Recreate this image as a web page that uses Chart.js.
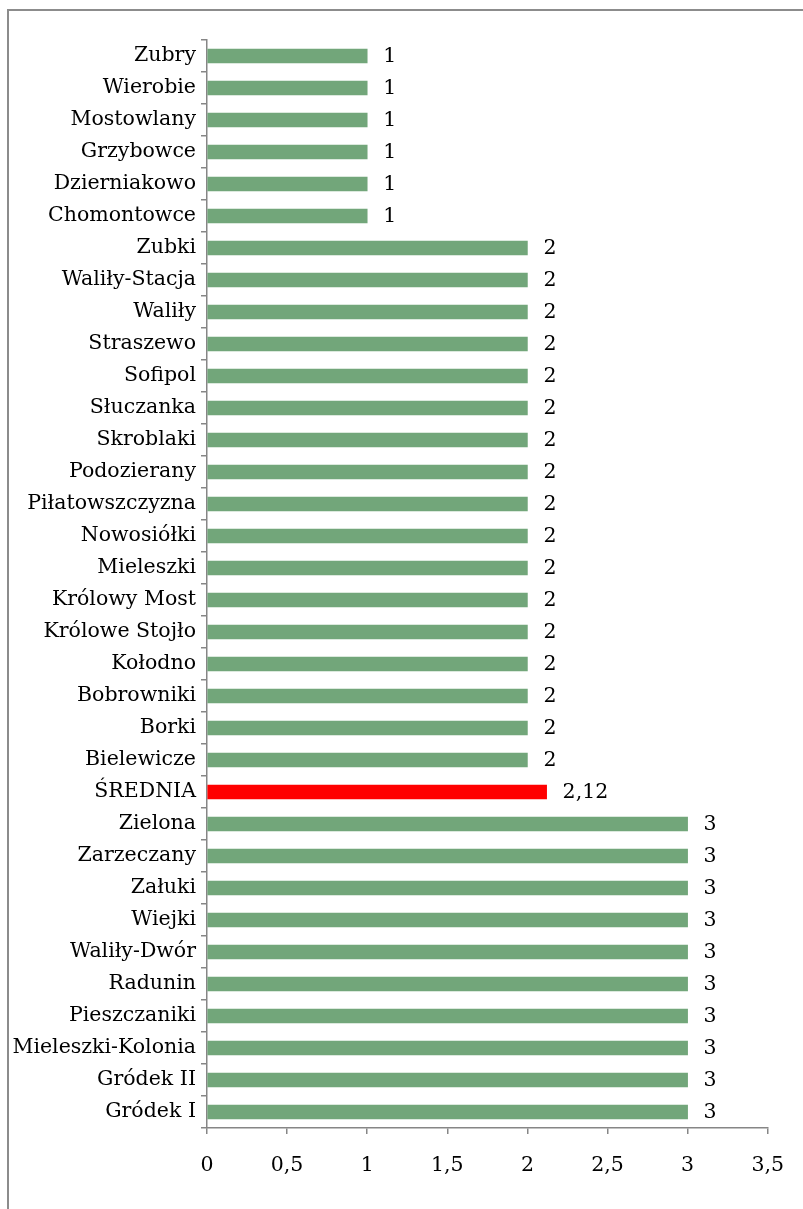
<!DOCTYPE html>
<html>
<head>
<meta charset="utf-8">
<script src="https://cdn.jsdelivr.net/npm/chart.js@4/dist/chart.umd.min.js"></script>
<style>
    html, body { margin: 0; padding: 0; background: #fff; }
    #wrap { position: relative; width: 803px; height: 1209px; overflow: hidden; }
    #frame {
        position: absolute; left: 7px; top: 9px; width: 900px; height: 1300px;
        border: 2px solid #8c8c8c; box-sizing: border-box;
    }
    #chart { position: absolute; left: 0; top: 0; }
</style>
</head>
<body>
<div id="wrap">
    <div id="frame"></div>
    <canvas id="chart" width="803" height="1209"></canvas>
</div>
<script>
// Categories, top to bottom
const categories = [
    'Zubry', 'Wierobie', 'Mostowlany', 'Grzybowce', 'Dzierniakowo', 'Chomontowce',
    'Zubki', 'Waliły-Stacja', 'Waliły', 'Straszewo', 'Sofipol', 'Słuczanka', 'Skroblaki',
    'Podozierany', 'Piłatowszczyzna', 'Nowosiółki', 'Mieleszki', 'Królowy Most',
    'Królowe Stojło', 'Kołodno', 'Bobrowniki', 'Borki', 'Bielewicze',
    'ŚREDNIA',
    'Zielona', 'Zarzeczany', 'Załuki', 'Wiejki', 'Waliły-Dwór', 'Radunin',
    'Pieszczaniki', 'Mieleszki-Kolonia', 'Gródek II', 'Gródek I'
];
const values = [
    1, 1, 1, 1, 1, 1,
    2, 2, 2, 2, 2, 2, 2, 2, 2, 2, 2, 2, 2, 2, 2, 2, 2,
    2.12,
    3, 3, 3, 3, 3, 3, 3, 3, 3, 3
];
const xTicks = [0, 0.5, 1, 1.5, 2, 2.5, 3, 3.5];

const green = '#72a67a';
const red = '#ff0000';
const barColors = categories.map(c => c === 'ŚREDNIA' ? red : green);
const fmt = v => String(v).replace('.', ',');
const font = { family: "'DejaVu Serif', serif", size: 20.5 };

// value labels to the right of each bar
const valueLabels = {
    id: 'valueLabels',
    afterDatasetsDraw(chart) {
        const ctx = chart.ctx;
        const meta = chart.getDatasetMeta(0);
        ctx.save();
        ctx.font = font.size + 'px ' + font.family;
        ctx.fillStyle = '#000';
        ctx.textAlign = 'left';
        ctx.textBaseline = 'middle';
        meta.data.forEach((bar, i) => {
            ctx.fillText(fmt(values[i]), bar.x + 16, bar.y + 1);
        });
        ctx.restore();
    }
};

new Chart(document.getElementById('chart'), {
    type: 'bar',
    data: {
        labels: categories,
        datasets: [{
            data: values,
            backgroundColor: barColors,
            barThickness: 14
        }]
    },
    options: {
        indexAxis: 'y',
        responsive: false,
        animation: false,
        layout: { padding: { top: 40, right: 34, left: 0, bottom: 0 } },
        plugins: { legend: { display: false }, tooltip: { enabled: false } },
        scales: {
            x: {
                min: 0,
                max: 3.5,
                afterBuildTicks(scale) { scale.ticks = xTicks.map(v => ({ value: v })); },
                afterFit(scale) { scale.height = 81; },
                grid: { drawOnChartArea: false, tickLength: 6, color: '#868686', lineWidth: 1.5 },
                border: { color: '#868686', width: 1.5 },
                ticks: { color: '#000', font: font, padding: 19, callback: v => fmt(v), maxRotation: 0 }
            },
            y: {
                afterFit(scale) { scale.width = 207; },
                grid: { drawOnChartArea: false, tickLength: 6, color: '#868686', lineWidth: 1.5, offset: true },
                border: { color: '#868686', width: 1.5 },
                ticks: { color: '#000', font: font, padding: 5, autoSkip: false }
            }
        }
    },
    plugins: [valueLabels]
});
</script>
</body>
</html>
